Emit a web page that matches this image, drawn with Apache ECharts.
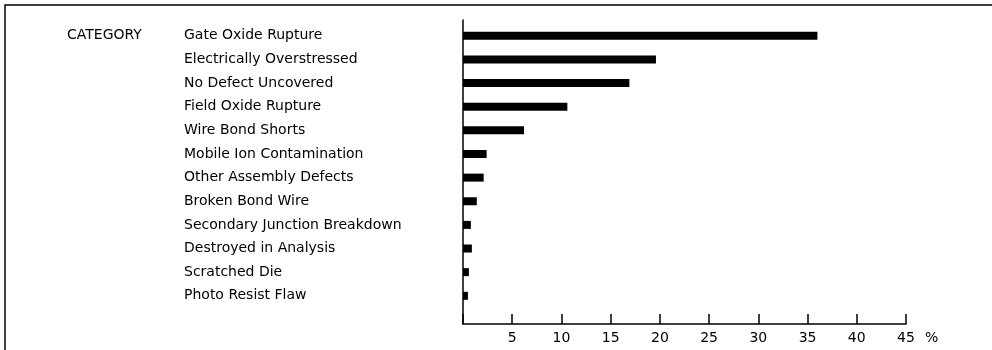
<!DOCTYPE html>
<html>
<head>
<meta charset="utf-8">
<script src="https://cdn.jsdelivr.net/npm/echarts@6/dist/echarts.min.js"></script>
<style>
  html, body { margin: 0; padding: 0; background: #fff; }
  #chart { width: 992px; height: 350px; }
</style>
</head>
<body>
<div id="chart"></div>
<script>
// Failure categories, top to bottom
const categories = [
  'Gate Oxide Rupture',
  'Electrically Overstressed',
  'No Defect Uncovered',
  'Field Oxide Rupture',
  'Wire Bond Shorts',
  'Mobile Ion Contamination',
  'Other Assembly Defects',
  'Broken Bond Wire',
  'Secondary Junction Breakdown',
  'Destroyed in Analysis',
  'Scratched Die',
  'Photo Resist Flaw'
];

// Share of failures, percent
const percentages = [36, 19.6, 16.9, 10.6, 6.2, 2.4, 2.1, 1.4, 0.8, 0.9, 0.6, 0.5];

// Percent scale
const axisMin = 0;
const axisMax = 45;
const axisStep = 5;

const ink = '#000';
const font = 'DejaVu Sans';

const chart = echarts.init(document.getElementById('chart'));

chart.setOption({
  animation: false,
  backgroundColor: '#fff',
  title: {
    text: 'CATEGORY',
    left: 67,
    top: 28,
    padding: 0,
    textStyle: { color: ink, fontFamily: font, fontSize: 14, fontWeight: 'normal' }
  },
  graphic: [{
    type: 'polyline',
    shape: { points: [[5, 350], [5, 5], [992, 5]] },
    style: { stroke: ink, lineWidth: 1.5, fill: null }
  }],
  grid: [
    // bars
    { left: 463, right: 86, top: 24, bottom: 42.4 },
    // axis frame
    { left: 463, right: 86, top: 20, bottom: 26 }
  ],
  xAxis: [
    {
      type: 'value', gridIndex: 0, min: axisMin, max: axisMax, interval: axisStep,
      show: false
    },
    {
      type: 'value', gridIndex: 1, min: axisMin, max: axisMax, interval: axisStep,
      position: 'bottom',
      axisLine: { show: true, lineStyle: { color: ink, width: 1.5 } },
      axisTick: { show: true, inside: true, length: 10, lineStyle: { color: ink, width: 1.5 } },
      splitLine: { show: false },
      axisLabel: {
        color: ink, fontFamily: font, fontSize: 14, margin: 7,
        formatter: v => (v === 0 ? '' : String(v))
      },
      name: '%',
      nameLocation: 'end',
      nameGap: 19,
      nameTextStyle: {
        color: ink, fontFamily: font, fontSize: 14,
        verticalAlign: 'top', padding: [7, 0, 0, 0]
      }
    }
  ],
  yAxis: [
    {
      type: 'category', gridIndex: 0, data: categories, inverse: true,
      axisLine: { show: false },
      axisTick: { show: false },
      axisLabel: {
        color: ink, fontFamily: font, fontSize: 14,
        align: 'left', margin: 279
      }
    },
    {
      type: 'value', gridIndex: 1, min: 0, max: 1,
      axisLine: { show: true, lineStyle: { color: ink, width: 1.5 } },
      axisTick: { show: false },
      axisLabel: { show: false },
      splitLine: { show: false }
    }
  ],
  series: [{
    type: 'bar',
    xAxisIndex: 0,
    yAxisIndex: 0,
    data: percentages,
    barWidth: 8,
    itemStyle: { color: ink },
    silent: true
  }]
});
</script>
</body>
</html>
